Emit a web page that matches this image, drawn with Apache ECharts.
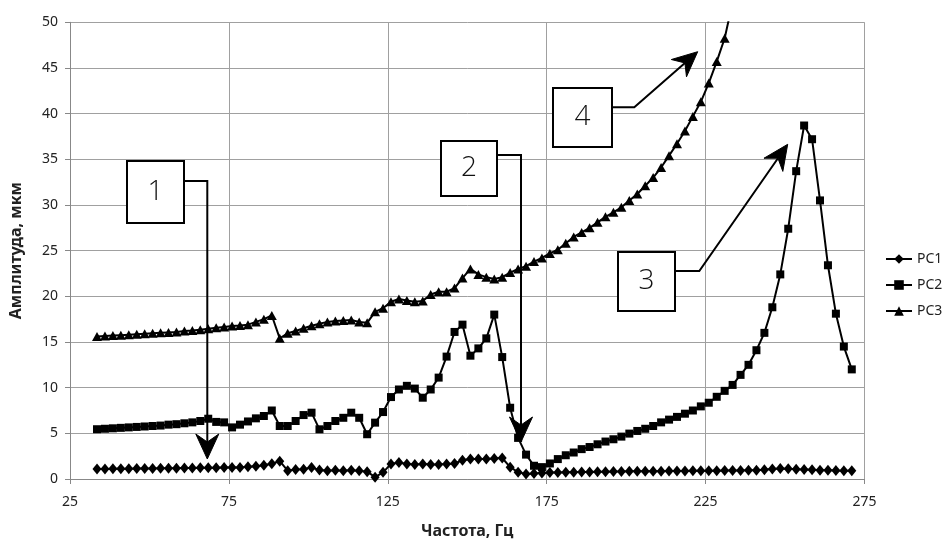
<!DOCTYPE html>
<html><head><meta charset="utf-8">
<script src="https://cdn.jsdelivr.net/npm/echarts@6/dist/echarts.min.js"></script>
<style>html,body{margin:0;padding:0;background:#fff}#c{width:952px;height:544px}</style>
</head><body><div id="c"></div>
<script>
// Frequencies, Hz
const freq = [33.5,36,38.5,41,43.5,46,48.5,51,53.5,56,
  58.5,61,63.5,66,68.5,71,73.5,76,78.5,81,
  83.5,86,88.5,91,93.5,96,98.5,101,103.5,106,
  108.5,111,113.5,116,118.5,121,123.5,126,128.5,131,
  133.5,136,138.5,141,143.5,146,148.5,151,153.5,156,
  158.5,161,163.5,166,168.5,171,173.5,176,178.5,181,
  183.5,186,188.5,191,193.5,196,198.5,201,203.5,206,
  208.5,211,213.5,216,218.5,221,223.5,226,228.5,231,
  233.5,236,238.5,241,243.5,246,248.5,251,253.5,256,
  258.5,261,263.5,266,268.5,271];
const pc1 = [1.10,1.10,1.11,1.12,1.13,1.14,1.15,1.16,1.17,1.18,
  1.19,1.20,1.21,1.22,1.23,1.24,1.25,1.26,1.27,1.33,
  1.40,1.50,1.68,1.95,0.91,1.05,1.08,1.25,0.98,0.90,
  0.95,0.90,0.95,0.90,0.80,0.20,0.73,1.65,1.80,1.65,
  1.60,1.65,1.60,1.60,1.65,1.70,2.05,2.20,2.20,2.20,
  2.25,2.30,1.30,0.75,0.55,0.60,0.65,0.70,0.72,0.75,
  0.75,0.78,0.78,0.80,0.80,0.82,0.82,0.84,0.85,0.85,
  0.86,0.86,0.88,0.88,0.88,0.90,0.90,0.90,0.90,0.92,
  0.92,0.92,0.95,0.95,1.00,1.10,1.15,1.12,1.08,1.05,
  1.00,0.95,0.95,0.92,0.90,0.90];
const pc2 = [5.45,5.50,5.55,5.60,5.65,5.70,5.75,5.80,5.85,5.95,
  6.00,6.10,6.20,6.35,6.60,6.25,6.20,5.65,5.95,6.30,
  6.64,6.90,7.50,5.80,5.80,6.35,7.00,7.26,5.44,5.80,
  6.35,6.70,7.26,6.70,4.90,6.17,7.33,8.97,9.80,10.20,
  9.90,8.90,9.80,11.10,13.40,16.10,16.90,13.50,14.30,15.40,
  18.00,13.35,7.80,4.50,2.67,1.45,1.30,1.70,2.18,2.60,
  2.90,3.27,3.50,3.80,4.10,4.35,4.64,4.97,5.26,5.50,
  5.80,6.20,6.50,6.80,7.15,7.50,7.95,8.35,9.00,9.65,
  10.30,11.40,12.50,14.10,16.00,18.80,22.40,27.40,33.70,38.70,
  37.20,30.50,23.40,18.10,14.50,12.00];
const pc3 = [15.60,15.65,15.70,15.75,15.80,15.85,15.90,15.95,16.00,16.05,
  16.10,16.20,16.25,16.35,16.45,16.55,16.65,16.75,16.80,16.90,
  17.20,17.50,17.90,15.40,15.96,16.20,16.50,16.77,17.00,17.20,
  17.30,17.35,17.40,17.20,17.10,18.30,18.70,19.40,19.70,19.55,
  19.40,19.50,20.20,20.50,20.50,20.90,22.00,23.00,22.40,22.10,
  21.90,22.10,22.60,23.00,23.30,23.80,24.20,24.70,25.10,25.80,
  26.50,27.00,27.50,28.10,28.70,29.20,29.75,30.50,31.20,32.10,
  33.00,34.10,35.40,36.70,38.10,39.70,41.30,43.35,45.70,48.25,
  52.20];
const seriesNames = ['PC1','PC2','PC3'];
const annotationLabels = ['1','2','3','4'];

const pairs = (ys) => ys.map((v, i) => [freq[i], v]);

// annotation geometry (pixels)
const boxes = [
  {x:127, y:161, w:57, h:62, from:[[184,181],[207.3,181]], tip:[207.3,459]},
  {x:441, y:141, w:56, h:55, from:[[497,155],[521,155]], tip:[521,442]},
  {x:618, y:252, w:57, h:59, from:[[675,271],[699.3,271]], tip:[787.7,144.3]},
  {x:553, y:88,  w:59, h:59, from:[[612,107.3],[634.3,107.3]], tip:[697.7,51.7]}
];
const graphics = [];
boxes.forEach((b, i) => {
  graphics.push({type:'rect', z:100, shape:{x:b.x, y:b.y, width:b.w, height:b.h},
    style:{fill:'#fff', stroke:'#000', lineWidth:2}});
  graphics.push({type:'text', z:101, x:b.x + b.w/2, y:b.y + b.h/2,
    style:{text:annotationLabels[i], fill:'#111', font:'300 28px "Open Sans", "Noto Sans", sans-serif',
      align:'center', verticalAlign:'middle'}});
  const last = b.from[b.from.length-1];
  const dx = b.tip[0]-last[0], dy = b.tip[1]-last[1];
  const len = Math.hypot(dx, dy);
  const ux = dx/len, uy = dy/len, nx = -uy, ny = ux;
  const L = 25, W = 11.5, N = 17;
  const bx = b.tip[0]-L*ux, by = b.tip[1]-L*uy;
  const notch = [b.tip[0]-N*ux, b.tip[1]-N*uy];
  graphics.push({type:'polyline', z:100, shape:{points:[...b.from, notch]},
    style:{stroke:'#000', lineWidth:2, fill:null}});
  graphics.push({type:'polygon', z:100, shape:{points:[b.tip,[bx+W*nx,by+W*ny],notch,[bx-W*nx,by-W*ny]]},
    style:{fill:'#000', stroke:'#000', lineWidth:1}});
});

const chart = echarts.init(document.getElementById('c'), null, {renderer:'canvas'});
const font = '"Noto Sans", sans-serif';
const common = {type:'line', animation:false, lineStyle:{color:'#000', width:2},
  itemStyle:{color:'#000'}, showAllSymbol:true};
chart.setOption({
  backgroundColor:'#fff',
  animation:false,
  grid:{left:68.5, right:87.5, top:22.3, bottom:62.3, containLabel:false},
  legend:{data:seriesNames, orient:'vertical', left:880, top:247, itemWidth:26, itemHeight:12, itemGap:12,
    textStyle:{fontSize:14, color:'#222', fontFamily:font}},
  xAxis:{type:'value', min:25, max:275, interval:50,
    name:'Частота, Гц', nameLocation:'middle', nameGap:44,
    nameTextStyle:{fontWeight:'bold', fontSize:16, color:'#222', fontFamily:font},
    axisLine:{show:true, onZero:false, lineStyle:{color:'#888'}},
    axisTick:{show:true, length:5, lineStyle:{color:'#888'}},
    axisLabel:{fontSize:14, color:'#222', margin:16, fontFamily:font},
    splitLine:{show:true, lineStyle:{color:'#a0a0a0'}}},
  yAxis:{type:'value', min:0, max:50, interval:5,
    name:'Амплитуда, мкм', nameLocation:'middle', nameGap:46, nameRotate:90,
    nameTextStyle:{fontWeight:'bold', fontSize:16, color:'#222', fontFamily:font},
    axisLine:{show:true, lineStyle:{color:'#888'}},
    axisTick:{show:true, length:5, lineStyle:{color:'#888'}},
    axisLabel:{fontSize:14, color:'#222', margin:12, fontFamily:font},
    splitLine:{show:true, lineStyle:{color:'#a0a0a0'}}},
  series:[
    Object.assign({name:seriesNames[0], symbol:'diamond', symbolSize:[9,11], data:pairs(pc1)}, common),
    Object.assign({name:seriesNames[1], symbol:'rect', symbolSize:8, data:pairs(pc2)}, common),
    Object.assign({name:seriesNames[2], symbol:'triangle', symbolSize:[10,9], data:pairs(pc3)}, common)
  ],
  graphic:graphics
});
</script></body></html>
